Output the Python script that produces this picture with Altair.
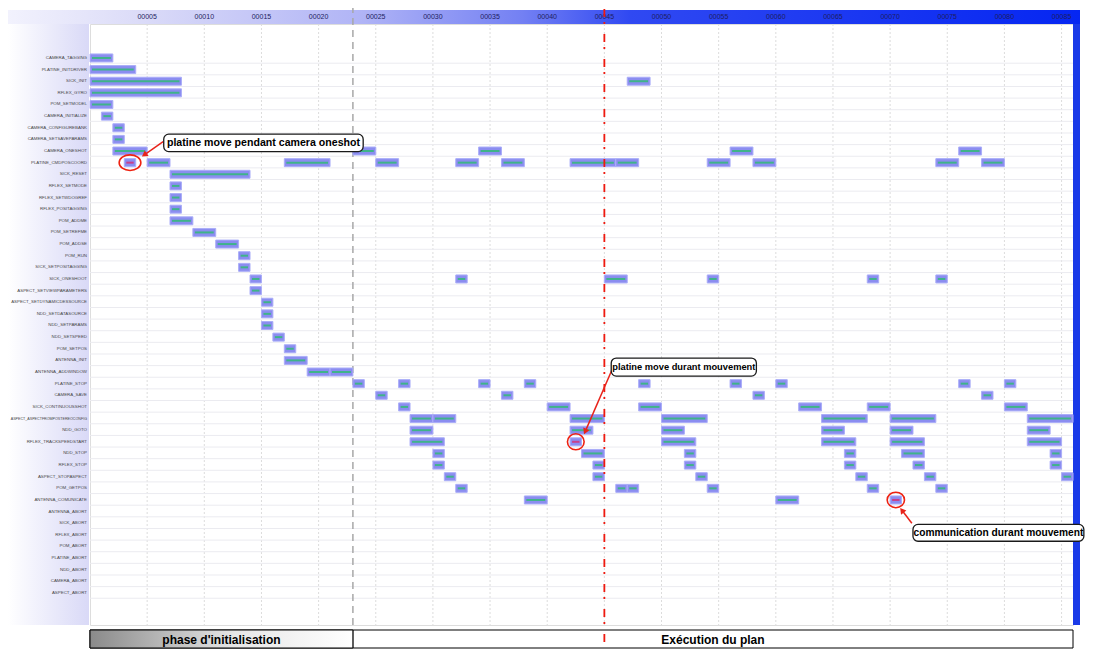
import math
import altair as alt
import pandas as pd

# ---------------- data ----------------
tasks = ["CAMERA_TAGGING", "PLATINE_INITDRIVER", "SICK_INIT", "RFLEX_GYRO", "POM_SETMODEL",
         "CAMERA_INITIALIZE", "CAMERA_CONFIGUREBANK", "CAMERA_SETSAVEPARAMS", "CAMERA_ONESHOT",
         "PLATINE_CMDPOSCOORD", "SICK_RESET", "RFLEX_SETMODE", "RFLEX_SETWDOGREF", "RFLEX_POSITAGGING",
         "POM_ADDME", "POM_SETREFME", "POM_ADDSE", "POM_RUN", "SICK_SETPOSITAGGING", "SICK_ONESHOOT",
         "ASPECT_SETVIEWPARAMETERS", "ASPECT_SETDYNAMICDESSOURCE", "NDD_SETDATASOURCE", "NDD_SETPARAMS",
         "NDD_SETSPEED", "POM_SETPOS", "ANTENNA_INIT", "ANTENNA_ADDWINDOW", "PLATINE_STOP", "CAMERA_SAVE",
         "SICK_CONTINUOUSSHOT", "ASPECT_ASPECTFROMPOSTEREOCONFIG", "NDD_GOTO", "RFLEX_TRACKSPEEDSTART",
         "NDD_STOP", "RFLEX_STOP", "ASPECT_STOPASPECT", "POM_GETPOS", "ANTENNA_COMUNICATE", "ANTENNA_ABORT",
         "SICK_ABORT", "RFLEX_ABORT", "POM_ABORT", "PLATINE_ABORT", "NDD_ABORT", "CAMERA_ABORT", "ASPECT_ABORT"]

bar_task = (["CAMERA_TAGGING"] + ["PLATINE_INITDRIVER"] + ["SICK_INIT"] * 2 + ["RFLEX_GYRO"] + ["POM_SETMODEL"]
            + ["CAMERA_INITIALIZE"] + ["CAMERA_CONFIGUREBANK"] + ["CAMERA_SETSAVEPARAMS"] + ["CAMERA_ONESHOT"] * 5
            + ["PLATINE_CMDPOSCOORD"] * 12
            + ["SICK_RESET", "RFLEX_SETMODE", "RFLEX_SETWDOGREF", "RFLEX_POSITAGGING", "POM_ADDME",
               "POM_SETREFME", "POM_ADDSE", "POM_RUN", "SICK_SETPOSITAGGING"]
            + ["SICK_ONESHOOT"] * 6
            + ["ASPECT_SETVIEWPARAMETERS", "ASPECT_SETDYNAMICDESSOURCE", "NDD_SETDATASOURCE", "NDD_SETPARAMS",
               "NDD_SETSPEED", "POM_SETPOS", "ANTENNA_INIT"]
            + ["ANTENNA_ADDWINDOW"] * 2 + ["PLATINE_STOP"] * 9 + ["CAMERA_SAVE"] * 4
            + ["SICK_CONTINUOUSSHOT"] * 6 + ["ASPECT_ASPECTFROMPOSTEREOCONFIG"] * 7 + ["NDD_GOTO"] * 6
            + ["RFLEX_TRACKSPEEDSTART"] * 6 + ["NDD_STOP"] * 6 + ["RFLEX_STOP"] * 6
            + ["ASPECT_STOPASPECT"] * 6 + ["POM_GETPOS"] * 6 + ["ANTENNA_COMUNICATE"] * 3)

bar_start = [0, 0, 0, 47, 0, 0, 1, 2, 2,
             2, 23, 34, 56, 76,
             3, 5, 17, 25, 32, 36, 42, 46, 54, 58, 74, 78,
             7, 7, 7, 7, 7, 9, 11, 13, 13,
             14, 32, 45, 54, 68, 74,
             14, 15, 15, 15, 16, 17, 17,
             19, 21,
             23, 27, 34, 38, 48, 56, 60, 76, 80,
             25, 36, 58, 78,
             27, 40, 48, 62, 68, 80,
             28, 30, 42, 50, 64, 70, 82,
             28, 42, 50, 64, 70, 82,
             28, 42, 50, 64, 70, 82,
             30, 43, 52, 66, 71, 84,
             30, 44, 52, 66, 72, 84,
             31, 44, 53, 67, 73, 85,
             32, 46, 47, 54, 68, 74,
             38, 60, 70]

bar_end = [2, 4, 8, 49, 8, 2, 2, 3, 3,
           5, 25, 36, 58, 78,
           4, 7, 21, 27, 34, 38, 46, 48, 56, 60, 76, 80,
           14, 8, 8, 8, 9, 11, 13, 14, 14,
           15, 33, 47, 55, 69, 75,
           15, 16, 16, 16, 17, 18, 19,
           21, 23,
           24, 28, 35, 39, 49, 57, 61, 77, 81,
           26, 37, 59, 79,
           28, 42, 50, 64, 70, 82,
           30, 32, 45, 54, 68, 74, 86,
           30, 44, 52, 66, 72, 84,
           31, 43, 53, 67, 73, 85,
           31, 45, 53, 67, 73, 85,
           31, 45, 53, 67, 73, 85,
           32, 45, 54, 68, 74, 86,
           33, 47, 48, 55, 69, 75,
           40, 62, 71]

hl_task = ["PLATINE_CMDPOSCOORD", "RFLEX_TRACKSPEEDSTART", "ANTENNA_COMUNICATE"]
hl_start = [3, 42, 70]

tick_values = [5, 10, 15, 20, 25, 30, 35, 40, 45, 50, 55, 60, 65, 70, 75, 80, 85]
phase_label = ["phase d'initialisation", "Exécution du plan"]
phase_start = [0, 23]
phase_end = [23, 86]
init_end = 23
marker_time = 45

note_text = ["platine move pendant camera oneshot", "platine move durant mouvement",
             "communication durant mouvement"]
note_x1 = [6.45, 45.6, 72.0]
note_x2 = [23.9, 58.3, 86.95]
note_y1 = [7.55, 26.8, 41.1]
note_y2 = [9.05, 28.35, 42.55]
note_font = [10.6, 9.3, 10.2]
arr_x1 = [6.4, 45.65, 71.9]
arr_y1 = [8.2, 27.85, 41.0]
arr_x2 = [4.5, 43.2, 70.85]
arr_y2 = [9.5, 33.4, 39.65]
circ_w = [21.7, 16.7, 17.3]
circ_ratio = [0.72, 0.96, 0.9]

assert len(bar_task) == len(bar_start) == len(bar_end)

# ---------------- geometry ----------------
W, H = 983, 601
X_DOM = [0, 86]
Y_DOM = [-1.92, 49.75]
KX = W / (X_DOM[1] - X_DOM[0])
KY = H / (Y_DOM[1] - Y_DOM[0])
xs = alt.Scale(domain=X_DOM, nice=False, zero=False, padding=0)
ys = alt.Scale(domain=Y_DOM, nice=False, zero=False, reverse=True, padding=0)

FONT = "Liberation Sans, Arial, Helvetica, sans-serif"
one = pd.DataFrame({"d": [0]})

row_of = {t: i + 1 for i, t in enumerate(tasks)}
hl = set(zip(hl_task, hl_start))
bars = pd.DataFrame({"task": bar_task, "start": bar_start, "end": bar_end})
bars["row"] = bars["task"].map(row_of)
bars["kind"] = ["hl" if (t, s) in hl else "n" for t, s in zip(bar_task, bar_start)]

rows_df = pd.DataFrame({"task": tasks, "row": list(range(1, len(tasks) + 1))})
rows_df["line"] = rows_df["row"] + 0.45
# label size: shrink only the longest names so they stay inside the left panel
rows_df["fs"] = [min(4.4, 77.0 / (len(t) * 0.68)) for t in tasks]
ticks_df = pd.DataFrame({"t": tick_values})

# ---------------- decorations ----------------
left_panel = alt.Chart(one).mark_rect(
    fill={"gradient": "linear", "x1": 0, "x2": 1, "y1": 0, "y2": 0,
          "stops": [{"offset": 0, "color": "#ffffff"}, {"offset": 1, "color": "#d9d9f7"}]}
).encode(x=alt.value(-82), x2=alt.value(-1), y=alt.value(-14), y2=alt.value(H))

header = alt.Chart(one).mark_rect(
    fill={"gradient": "linear", "x1": 0, "x2": 1, "y1": 0, "y2": 0,
          "stops": [{"offset": 0, "color": "#f2f2fd"},
                    {"offset": 0.12, "color": "#dcdcf8"},
                    {"offset": 0.33, "color": "#b0b4f6"},
                    {"offset": 0.48, "color": "#7380f3"},
                    {"offset": 0.58, "color": "#3049f2"},
                    {"offset": 1, "color": "#0526f2"}]}
).encode(x=alt.value(-82), x2=alt.value(990), y=alt.value(-14), y2=alt.value(0))

right_strip = alt.Chart(one).mark_rect(fill="#1a3ae8").encode(
    x=alt.value(W), x2=alt.value(990), y=alt.value(0), y2=alt.value(H))

vgrid = alt.Chart(ticks_df).mark_rule(color="#dcdcdc", strokeDash=[2, 2], strokeWidth=1).encode(
    x=alt.X("t:Q", scale=xs, axis=None), y=alt.value(0), y2=alt.value(H))

hgrid = alt.Chart(rows_df).mark_rule(color="#ebebf0", strokeWidth=1).encode(
    y=alt.Y("line:Q", scale=ys, axis=None), x=alt.value(0), x2=alt.value(W))

# tick labels in the header band and task labels in the left panel
tick_labels = alt.Chart(ticks_df).mark_text(
    font=FONT, fontSize=7, color="#1e1e62", align="center", baseline="middle"
).encode(x=alt.X("t:Q", scale=xs, axis=None), y=alt.value(-7),
         text=alt.Text("t:Q", format="05d"))

row_labels = alt.Chart(rows_df).mark_text(
    font=FONT, color="#474747", align="right", baseline="middle"
).encode(x=alt.value(-3), y=alt.Y("row:Q", scale=ys, axis=None), text="task:N",
         size=alt.Size("fs:Q", scale=None))

# ---------------- bars ----------------
bar_layer = alt.Chart(bars).mark_bar(
    orient="horizontal", size=8, fill="#8b8df0", stroke="#abaef8", strokeWidth=1
).encode(
    x=alt.X("start:Q", scale=xs, axis=None),
    x2="end:Q",
    y=alt.Y("row:Q", scale=ys, axis=None),
)

center_line = alt.Chart(bars).mark_rule(strokeWidth=2, xOffset=2, x2Offset=-2).encode(
    x=alt.X("start:Q", scale=xs, axis=None),
    x2="end:Q",
    y=alt.Y("row:Q", scale=ys, axis=None),
    color=alt.Color("kind:N", scale=alt.Scale(domain=["n", "hl"], range=["#3fb38a", "#c8408c"]),
                    legend=None),
)

# ---------------- vertical markers ----------------
gray_line = alt.Chart(pd.DataFrame({"t": [init_end]})).mark_rule(
    color="#a8a8a8", strokeDash=[7, 5], strokeWidth=1.5
).encode(x=alt.X("t:Q", scale=xs, axis=None), y=alt.value(-18), y2=alt.value(606))

red_line = alt.Chart(pd.DataFrame({"t": [marker_time]})).mark_rule(
    color="#ee1a10", strokeDash=[8, 5, 2, 10], strokeWidth=1.8
).encode(x=alt.X("t:Q", scale=xs, axis=None), y=alt.value(-15), y2=alt.value(621))

# ---------------- phase boxes ----------------
phases = pd.DataFrame({"label": phase_label, "s": phase_start, "e": phase_end})
phases["c"] = (phases["s"] + phases["e"]) / 2
phase_box = alt.Chart(phases).mark_rect(fill="white", stroke="black", strokeWidth=1).encode(
    x=alt.X("s:Q", scale=xs, axis=None), x2="e:Q", y=alt.value(606), y2=alt.value(624))
phase_grad = alt.Chart(phases).transform_filter(alt.datum.s == phase_start[0]).mark_rect(
    fill={"gradient": "linear", "x1": 0, "x2": 1, "y1": 0, "y2": 0,
          "stops": [{"offset": 0, "color": "#8a8a8a"}, {"offset": 0.55, "color": "#e6e6e6"},
                    {"offset": 1, "color": "#ffffff"}]},
    stroke="black", strokeWidth=1
).encode(x=alt.X("s:Q", scale=xs, axis=None), x2="e:Q", y=alt.value(606), y2=alt.value(624))
phase_text = alt.Chart(phases).mark_text(
    font=FONT, fontWeight="bold", fontSize=12, color="black", align="center", baseline="middle"
).encode(x=alt.X("c:Q", scale=xs, axis=None), y=alt.value(615.5), text="label:N")

# ---------------- annotations ----------------
notes = pd.DataFrame({"text": note_text, "x1": note_x1, "x2": note_x2, "y1": note_y1, "y2": note_y2,
                      "fs": note_font})
notes["cx"] = (notes["x1"] + notes["x2"]) / 2
notes["cy"] = (notes["y1"] + notes["y2"]) / 2
note_box = alt.Chart(notes).mark_rect(fill="white", stroke="#1a1a1a", strokeWidth=1.3, cornerRadius=5).encode(
    x=alt.X("x1:Q", scale=xs, axis=None), x2="x2:Q",
    y=alt.Y("y1:Q", scale=ys, axis=None), y2="y2:Q")
note_txt = alt.Chart(notes).mark_text(
    font=FONT, fontWeight="bold", color="black", align="center", baseline="middle"
).encode(x=alt.X("cx:Q", scale=xs, axis=None), y=alt.Y("cy:Q", scale=ys, axis=None), text="text:N",
         size=alt.Size("fs:Q", scale=None))

arrows = pd.DataFrame({"x1": arr_x1, "y1": arr_y1, "x2": arr_x2, "y2": arr_y2})
angs, hx, hy = [], [], []
for a, b, c, d in zip(arr_x1, arr_y1, arr_x2, arr_y2):
    dx, dy = (c - a) * KX, (d - b) * KY
    L = math.hypot(dx, dy)
    angs.append(math.degrees(math.atan2(dx, -dy)) % 360)
    hx.append(c - 3.5 * dx / L / KX)
    hy.append(d - 3.5 * dy / L / KY)
arrows["ang"] = angs
arrows["hx"] = hx
arrows["hy"] = hy
arrow_line = alt.Chart(arrows).mark_rule(color="#e8231a", strokeWidth=1.5).encode(
    x=alt.X("x1:Q", scale=xs, axis=None), x2="hx:Q",
    y=alt.Y("y1:Q", scale=ys, axis=None), y2="hy:Q")
arrow_head = alt.Chart(arrows).mark_point(shape="triangle-up", filled=True, color="#e8231a",
                                          size=45, opacity=1).encode(
    x=alt.X("hx:Q", scale=xs, axis=None), y=alt.Y("hy:Q", scale=ys, axis=None),
    angle=alt.Angle("ang:Q", scale=None))

circ = pd.DataFrame({"task": hl_task, "start": hl_start})
circ["row"] = circ["task"].map(row_of)
circ["cx"] = circ["start"] + 0.5
circ["size"] = [w * w for w in circ_w]
circ["shape"] = [f"M -1 0 A 1 {r} 0 1 1 1 0 A 1 {r} 0 1 1 -1 0 Z" for r in circ_ratio]
circles = alt.Chart(circ).mark_point(filled=False, color="#ee2211", strokeWidth=1.6, opacity=1).encode(
    x=alt.X("cx:Q", scale=xs, axis=None), y=alt.Y("row:Q", scale=ys, axis=None),
    size=alt.Size("size:Q", scale=None), shape=alt.Shape("shape:N", scale=None))

chart = alt.layer(
    left_panel, header, right_strip, vgrid, hgrid, tick_labels, row_labels, gray_line,
    bar_layer, center_line, phase_box, phase_grad, phase_text, red_line,
    circles, arrow_line, arrow_head, note_box, note_txt
).properties(
    width=W, height=H,
    autosize=alt.AutoSizeParams(type="none"),
    padding={"left": 82, "top": 16, "right": 12, "bottom": 25},
).configure_view(strokeWidth=0).configure(background="white")

chart.save("out.html", embed_options={"renderer": "svg", "actions": False})
